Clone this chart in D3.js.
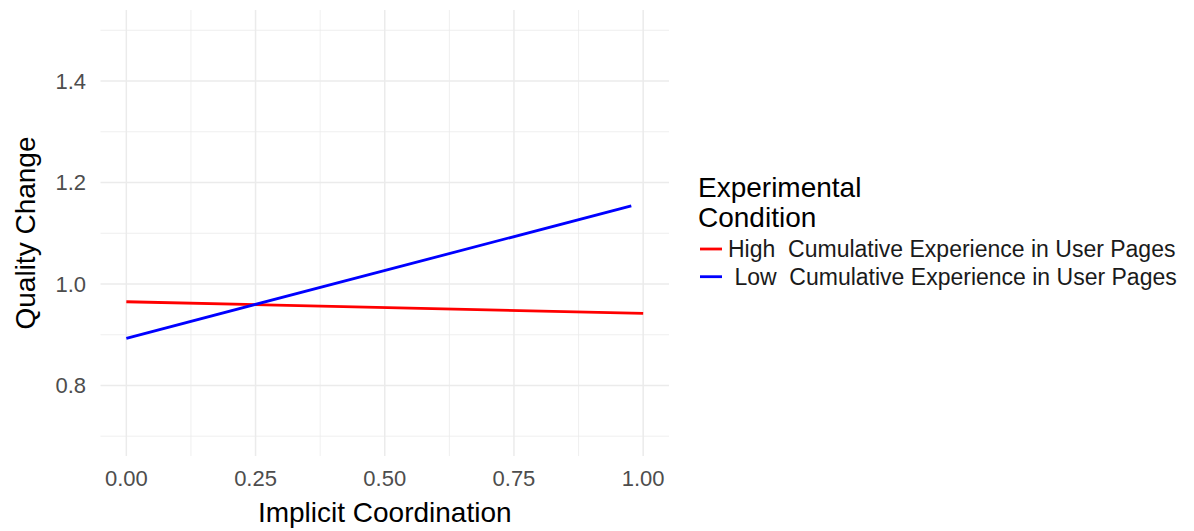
<!DOCTYPE html>
<html lang="en">
<head>
  <meta charset="utf-8"/>
  <title>Quality Change vs Implicit Coordination</title>
  <script src="https://cdn.jsdelivr.net/npm/d3@7/dist/d3.min.js"></script>
  <style>
    html, body { margin:0; padding:0; background:#fff; overflow:hidden; }
    svg { display:block; font-family:"Liberation Sans", Arial, sans-serif; }
    .tick-label { fill:#4d4d4d; font-size:22px; }
    .axis-title { fill:#000; font-size:28px; }
    .legend-title { fill:#000; font-size:28px; }
    .legend-label { fill:#1a1a1a; font-size:23px; white-space:pre; }
  </style>
</head>
<body>
<svg width="1194" height="531"></svg>
<script>
  // data
  const conditions = ["High  Cumulative Experience in User Pages", " Low  Cumulative Experience in User Pages"];
  const colors     = ["#ff0000", "#0000ff"];
  const highX = [0, 1];
  const highY = [0.965, 0.942];
  const lowX  = [0, 0.977];
  const lowY  = [0.893, 1.154];

  const xTicks = [0, 0.25, 0.5, 0.75, 1];
  const xMinor = [0.125, 0.375, 0.625, 0.875];
  const yTicks = [0.8, 1.0, 1.2, 1.4];
  const yMinor = [0.7, 0.9, 1.1, 1.3, 1.5];

  const series = [
    { name: conditions[0], color: colors[0], pts: highX.map((x, i) => [x, highY[i]]) },
    { name: conditions[1], color: colors[1], pts: lowX.map((x, i) => [x, lowY[i]]) }
  ];

  const svg = d3.select("svg");
  const panel = { left: 100.5, right: 669, top: 10, bottom: 456 };

  // scales (ggplot style 5% expansion baked into domains)
  const x = d3.scaleLinear().domain([-0.05, 1.05]).range([panel.left, panel.right]);
  const y = d3.scaleLinear().domain([0.661, 1.540]).range([panel.bottom, panel.top]);

  const grid = svg.append("g");
  // minor grid
  grid.selectAll(".xminor").data(xMinor).join("line")
    .attr("x1", d => x(d)).attr("x2", d => x(d))
    .attr("y1", panel.top).attr("y2", panel.bottom)
    .attr("stroke", "#ebebeb").attr("stroke-width", 0.8);
  grid.selectAll(".yminor").data(yMinor).join("line")
    .attr("class", "yminor")
    .attr("x1", panel.left).attr("x2", panel.right)
    .attr("y1", d => y(d)).attr("y2", d => y(d))
    .attr("stroke", "#ebebeb").attr("stroke-width", 0.8);
  // major grid
  grid.selectAll(".xmajor").data(xTicks).join("line")
    .attr("class", "xmajor")
    .attr("x1", d => x(d)).attr("x2", d => x(d))
    .attr("y1", panel.top).attr("y2", panel.bottom)
    .attr("stroke", "#ebebeb").attr("stroke-width", 1.5);
  grid.selectAll(".ymajor").data(yTicks).join("line")
    .attr("class", "ymajor")
    .attr("x1", panel.left).attr("x2", panel.right)
    .attr("y1", d => y(d)).attr("y2", d => y(d))
    .attr("stroke", "#ebebeb").attr("stroke-width", 1.5);

  // tick labels
  svg.selectAll(".xlab").data(xTicks).join("text")
    .attr("class", "tick-label")
    .attr("x", d => x(d)).attr("y", 485.5)
    .attr("text-anchor", "middle")
    .text(d3.format(".2f"));
  svg.selectAll(".ylab").data(yTicks).join("text")
    .attr("class", "tick-label")
    .attr("x", 86).attr("y", d => y(d))
    .attr("dy", "0.35em")
    .attr("text-anchor", "end")
    .text(d3.format(".1f"));

  // lines
  const line = d3.line().x(d => x(d[0])).y(d => y(d[1]));
  svg.selectAll(".series").data(series).join("path")
    .attr("d", d => line(d.pts))
    .attr("fill", "none")
    .attr("stroke", d => d.color)
    .attr("stroke-width", 2.8);

  // axis titles
  svg.append("text").attr("class", "axis-title")
    .attr("x", (panel.left + panel.right) / 2).attr("y", 522)
    .attr("text-anchor", "middle")
    .text("Implicit Coordination");
  svg.append("text").attr("class", "axis-title")
    .attr("transform", `translate(35,${(panel.top + panel.bottom) / 2}) rotate(-90)`)
    .attr("text-anchor", "middle")
    .text("Quality Change");

  // legend
  const lg = svg.append("g").attr("transform", "translate(698,0)");
  lg.append("text").attr("class", "legend-title").attr("y", 196.5).text("Experimental");
  lg.append("text").attr("class", "legend-title").attr("y", 226.5).text("Condition");
  const items = lg.selectAll(".item").data(series).join("g")
    .attr("transform", (d, i) => `translate(0,${249 + i * 27.7})`);
  items.append("line")
    .attr("x1", 2).attr("x2", 24)
    .attr("stroke", d => d.color).attr("stroke-width", 2.8);
  items.append("text").attr("class", "legend-label")
    .attr("x", 30).attr("dy", "0.35em")
    .text(d => d.name);
</script>
</body>
</html>
